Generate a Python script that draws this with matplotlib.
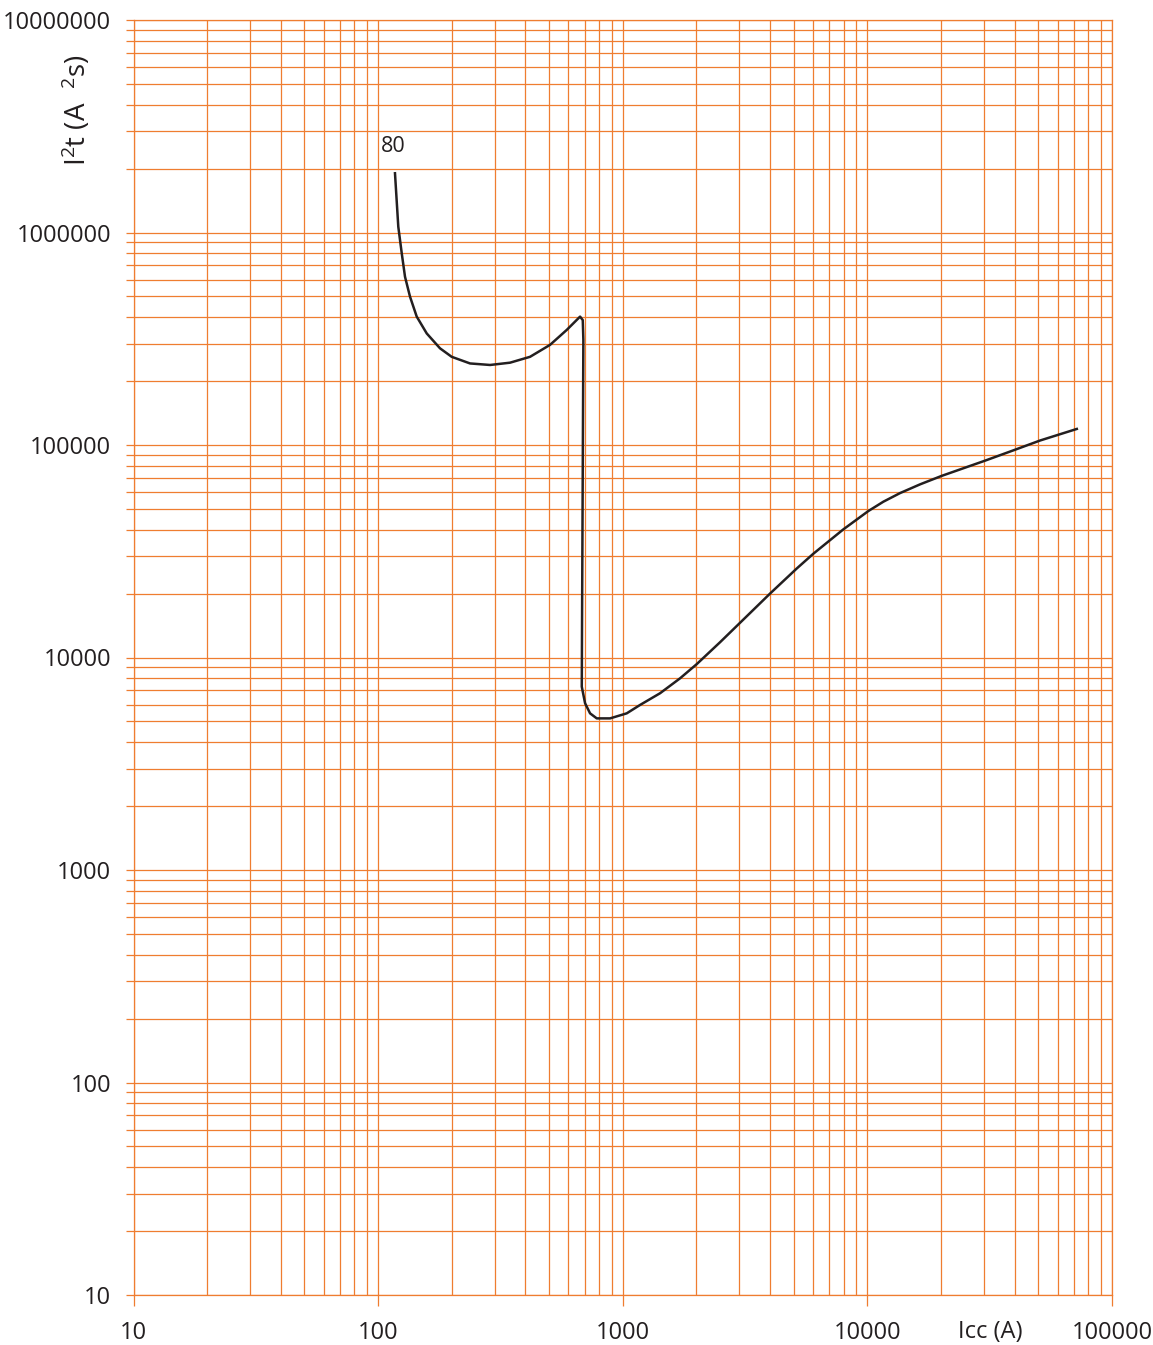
import matplotlib as mpl
import matplotlib.pyplot as plt
from matplotlib.ticker import LogLocator, NullFormatter, FixedLocator

mpl.rcParams.update(
    {
        "font.family": ["Open Sans", "DejaVu Sans"],
        "font.size": 17,
        "mathtext.default": "regular",
    }
)

# I2t let-through curve for the 80 A device
icc = [117.2, 120.9, 124.9, 128.8, 135.0, 143.8, 158.0, 179.1, 199.9, 237.5,
       286.8, 346.2, 417.8, 504.5, 590.3, 669.2, 686.4, 690.2, 681.8, 680.0,
       701.5, 735.2, 782.9, 887.5, 1038, 1177, 1421, 1715, 2007, 2499,
       3017, 4002, 5145, 6016, 7979, 10095, 11625, 13605, 16430, 20150,
       30280, 40150, 50830, 71800]
i2t = [1.90e6, 1.065e6, 7.98e5, 6.19e5, 4.99e5, 4.02e5, 3.35e5, 2.85e5, 2.60e5, 2.42e5,
       2.38e5, 2.44e5, 2.60e5, 2.96e5, 3.48e5, 4.02e5, 3.87e5, 3.12e5, 1.50e4, 7.29e3,
       6.09e3, 5.46e3, 5.17e3, 5.17e3, 5.46e3, 5.98e3, 6.79e3, 7.98e3, 9.31e3, 1.18e4,
       1.457e4, 2.0e4, 2.624e4, 3.08e4, 4.01e4, 4.89e4, 5.41e4, 5.94e4, 6.53e4, 7.16e4,
       8.44e4, 9.5e4, 1.05e5, 1.19e5]
curve_label = "80"
x_ticks = [10, 100, 1000, 10000, 100000]
y_ticks = [10, 100, 1000, 10000, 100000, 1000000, 10000000]

GRID = "#ef7d30"
INK = "#231f20"

fig = plt.figure(figsize=(11.53, 13.45), dpi=100)
ax = fig.add_axes([133.5 / 1153, 50 / 1345, 978.5 / 1153, 1275 / 1345])

ax.set_xscale("log")
ax.set_yscale("log")
ax.set_xlim(10, 100000)
ax.set_ylim(10, 10000000)

ax.xaxis.set_major_locator(FixedLocator(x_ticks))
ax.yaxis.set_major_locator(FixedLocator(y_ticks))
ax.set_xticklabels([str(v) for v in x_ticks])
ax.set_yticklabels([str(v) for v in y_ticks])
ax.xaxis.set_minor_locator(LogLocator(base=10, subs=range(2, 10), numticks=20))
ax.yaxis.set_minor_locator(LogLocator(base=10, subs=range(2, 10), numticks=20))
ax.xaxis.set_minor_formatter(NullFormatter())
ax.yaxis.set_minor_formatter(NullFormatter())

ax.grid(which="both", color=GRID, linewidth=0.9)
ax.set_axisbelow(True)
for spine in ax.spines.values():
    spine.set_color(GRID)
    spine.set_linewidth(0.9)

ax.tick_params(axis="x", which="major", length=8, width=0.9, color=GRID,
               labelcolor=INK, labelsize=17, pad=11)
ax.tick_params(axis="x", which="minor", length=0)
ax.tick_params(axis="y", which="both", length=6, width=0.9, color=GRID,
               labelcolor=INK, labelsize=17, pad=10)

ax.plot(icc, i2t, color=INK, linewidth=1.8, solid_joinstyle="round", zorder=3)
ax.text(115, 2.53e6, curve_label, ha="center", va="center", fontsize=15.5, color=INK)

fig.text(990 / 1153, 1 - 1332 / 1345, "Icc (A)", ha="center", va="center",
         fontsize=17, color=INK)
fig.text(77 / 1153, 1 - 110 / 1345, "I$^{2}$t (A  $^{2}$s)", ha="center", va="center",
         rotation=90, fontsize=20, color=INK)

fig.savefig("out.png", dpi=100)
